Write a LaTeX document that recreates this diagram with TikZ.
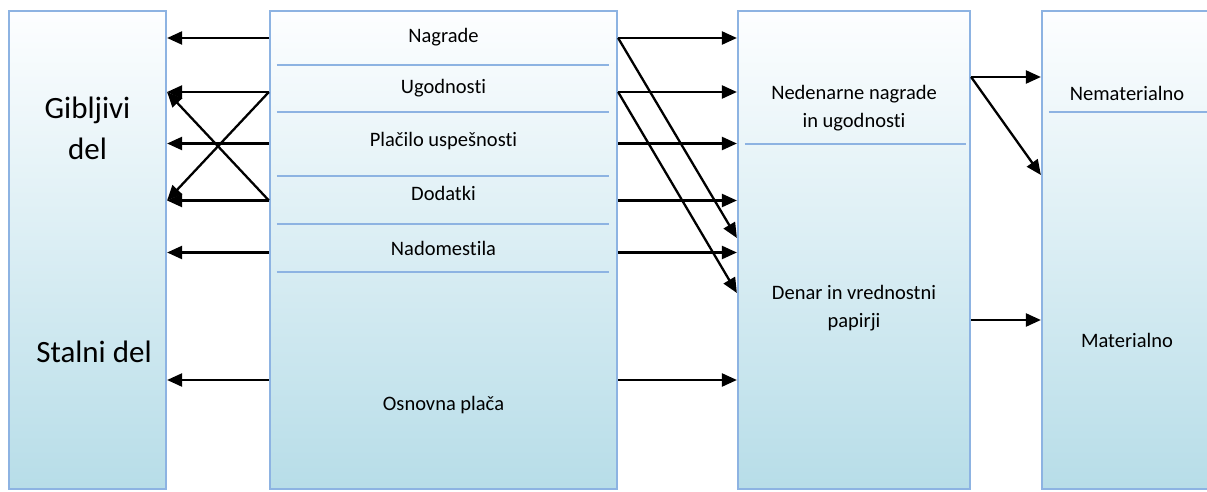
\documentclass[tikz,border=0pt]{standalone}
\usepackage{fontspec}
\setmainfont{Carlito}[Ligatures=NoCommon]
\usetikzlibrary{arrows.meta}
\definecolor{edgeblue}{RGB}{141,179,226}
\definecolor{boxtop}{RGB}{253,254,255}
\definecolor{boxbottom}{RGB}{183,221,232}

\begin{document}
\begin{tikzpicture}[x=1pt, y=1pt, >={Triangle[length=15pt,width=13pt]}]

\tikzstyle{colbox}  = [rectangle, draw=edgeblue, line width=2.2pt,
                       top color=boxtop, bottom color=boxbottom,
                       minimum height=478pt, inner sep=0pt]
\tikzstyle{divline} = [draw=edgeblue, line width=2.2pt]
\tikzstyle{lbl}     = [font=\fontsize{20.5}{28}\selectfont,
                       align=center, inner sep=0pt]
\tikzstyle{biglbl}  = [font=\fontsize{31}{41}\selectfont,
                       align=center, inner sep=0pt]
\tikzstyle{arr}     = [->, line width=2.3pt]

\useasboundingbox (0,0) rectangle (1207,-492);

% ── Columns ──────────────────────────────────────────
\node[colbox, minimum width=157pt] (struct) at (87.5,-250)  {};
\node[colbox, minimum width=347pt] (items)  at (443.5,-250) {};
\node[colbox, minimum width=232pt] (forms)  at (854,-250)   {};
\node[colbox, minimum width=170pt] (kinds)  at (1127,-250)  {};

% ── Row levels for the arrows ────────────────────────
\coordinate (r1) at (0,-38);
\coordinate (r2) at (0,-92);
\coordinate (r3) at (0,-143.5);
\coordinate (r4) at (0,-200.5);
\coordinate (r5) at (0,-252.5);
\coordinate (r6) at (0,-380);
\coordinate (t1) at (0,-238);
\coordinate (t2) at (0,-293);
\coordinate (u1) at (0,-77);
\coordinate (u2) at (0,-175);
\coordinate (u3) at (0,-320);

% ── Dividers ─────────────────────────────────────────
\foreach \y in {65,112,176,224,272}
  \draw[divline] ([xshift=8pt]items.west |- 0,-\y) -- ([xshift=-9pt]items.east |- 0,-\y);
\draw[divline] ([xshift=8pt]forms.west |- 0,-144) -- ([xshift=-5pt]forms.east |- 0,-144);
\draw[divline] ([xshift=8pt]kinds.west |- 0,-112) -- (kinds.east |- 0,-112);

% ── Labels ───────────────────────────────────────────
\node[biglbl] (gib)   at (87.5,-128)  {Gibljivi\\del};
\node[biglbl] (stal)  at (94,-352)    {Stalni del};
\node[lbl]    (nag)   at (443.5,-37)  {Nagrade};
\node[lbl]    (ugo)   at (443.5,-88)  {Ugodnosti};
\node[lbl]    (pla)   at (443.5,-141) {Plačilo uspešnosti};
\node[lbl]    (dod)   at (443.5,-193) {Dodatki};
\node[lbl]    (nad)   at (443.5,-248) {Nadomestila};
\node[lbl]    (osn)   at (443.5,-405) {Osnovna plača};
\node[lbl]    (neden) at (854,-108)   {Nedenarne nagrade\\in ugodnosti};
\node[lbl]    (denar) at (854,-308)   {Denar in vrednostni\\papirji};
\node[lbl]    (nemat) at (1127,-93)   {Nematerialno};
\node[lbl]    (mat)   at (1127,-340)  {Materialno};

% ── Arrows: items to struct ──────────────────────────
\foreach \r in {r1,r2,r3,r4,r5,r6}
  \draw[arr] (items.west |- \r) -- (struct.east |- \r);
\draw[arr] (items.west |- r2) -- (struct.east |- r4);
\draw[arr] (items.west |- r4) -- (struct.east |- r2);

% ── Arrows: items to forms ───────────────────────────
\foreach \r in {r1,r2,r3,r4,r5,r6}
  \draw[arr] (items.east |- \r) -- (forms.west |- \r);
\draw[arr] (items.east |- r1) -- (forms.west |- t1);
\draw[arr] (items.east |- r2) -- (forms.west |- t2);

% ── Arrows: forms to kinds ───────────────────────────
\draw[arr] (forms.east |- u1) -- (kinds.west |- u1);
\draw[arr] (forms.east |- u1) -- (kinds.west |- u2);
\draw[arr] (forms.east |- u3) -- (kinds.west |- u3);

\end{tikzpicture}
\end{document}
